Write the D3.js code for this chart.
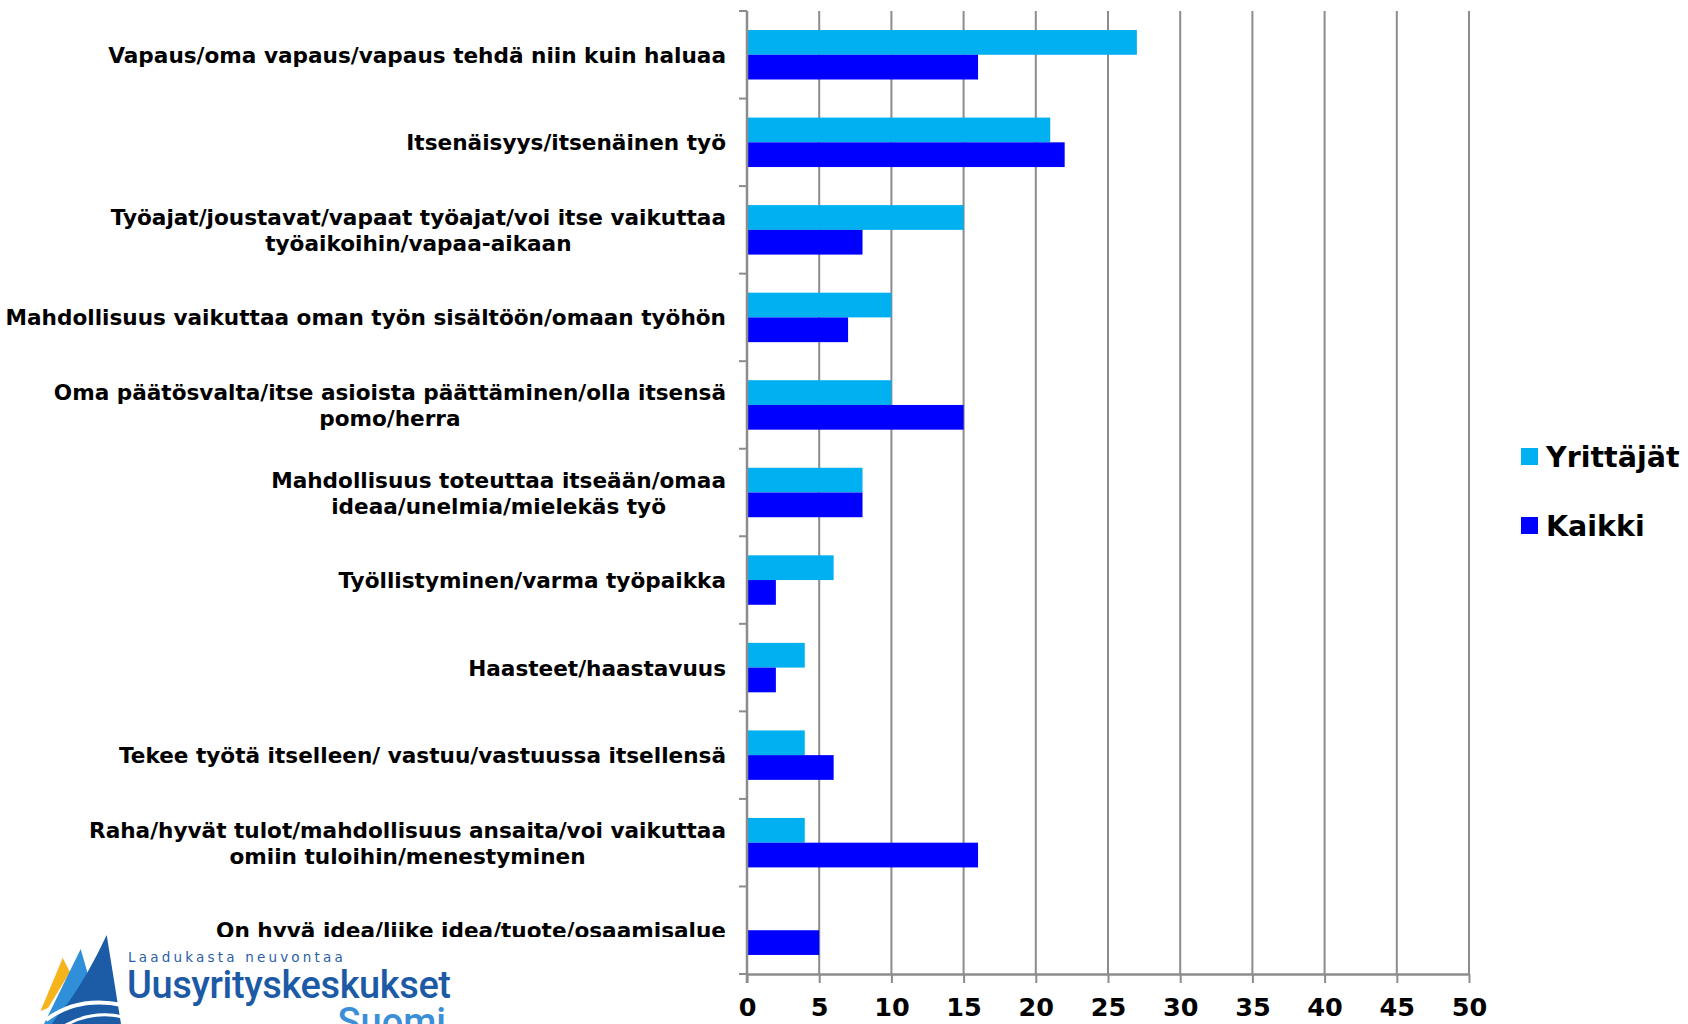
<!DOCTYPE html>
<html>
<head>
<meta charset="utf-8">
<script src="https://cdn.jsdelivr.net/npm/d3@7"></script>
<style>
  html, body { margin: 0; padding: 0; background: #fff; }
  svg { display: block; }
</style>
</head>
<body>
<svg id="chart"></svg>
<script>
var categories = [
  "Vapaus/oma vapaus/vapaus tehdä niin kuin haluaa",
  "Itsenäisyys/itsenäinen työ",
  "Työajat/joustavat/vapaat työajat/voi itse vaikuttaa\ntyöaikoihin/vapaa-aikaan",
  "Mahdollisuus vaikuttaa oman työn sisältöön/omaan työhön",
  "Oma päätösvalta/itse asioista päättäminen/olla itsensä\npomo/herra",
  "Mahdollisuus toteuttaa itseään/omaa\nideaa/unelmia/mielekäs työ",
  "Työllistyminen/varma työpaikka",
  "Haasteet/haastavuus",
  "Tekee työtä itselleen/ vastuu/vastuussa itsellensä",
  "Raha/hyvät tulot/mahdollisuus ansaita/voi vaikuttaa\nomiin tuloihin/menestyminen",
  "On hyvä idea/liike idea/tuote/osaamisalue"
];
var seriesNames = ["Yrittäjät", "Kaikki"];
var yrittajat = [27, 21, 15, 10, 10, 8, 6, 4, 4, 4, 0];
var kaikki = [16, 22, 8, 7, 15, 8, 2, 2, 6, 16, 5];
var xTicks = [0, 5, 10, 15, 20, 25, 30, 35, 40, 45, 50];
var colors = ["#00b0f0", "#0000ff"];

var width = 1688, height = 1024;
var plotLeft = 747, plotRight = 1469, plotTop = 11, plotBottom = 974;
var labelRight = 726;
var gridColor = "#8c8c8c";
var font = "'DejaVu Sans', Verdana, sans-serif";

var svg = d3.select('#chart')
  .attr('width', width)
  .attr('height', height);

var x = d3.scaleLinear()
  .domain([0, 50])
  .range([plotLeft, plotRight]);

var y = d3.scaleBand()
  .domain(categories)
  .range([plotTop, plotBottom])
  .padding(0);

var ySeries = d3.scaleBand()
  .domain(seriesNames)
  .range([0, y.bandwidth()])
  .paddingInner(0)
  .paddingOuter(0.77);

// vertical gridlines
svg.append('g')
  .selectAll('line')
  .data(xTicks.slice(1))
  .enter().append('line')
  .attr('x1', function(d){ return x(d); })
  .attr('x2', function(d){ return x(d); })
  .attr('y1', plotTop)
  .attr('y2', plotBottom)
  .attr('stroke', gridColor)
  .attr('stroke-width', 2);

// bars
var rows = categories.map(function(c, i){
  return {name: c, values: [yrittajat[i], kaikki[i]]};
});

var groups = svg.append('g')
  .selectAll('g')
  .data(rows)
  .enter().append('g')
  .attr('transform', function(d){ return 'translate(0,' + y(d.name) + ')'; });

groups.selectAll('rect')
  .data(function(d){
    return d.values.map(function(v, j){ return {series: seriesNames[j], value: v, idx: j}; });
  })
  .enter().append('rect')
  .attr('x', x(0))
  .attr('y', function(d){ return ySeries(d.series); })
  .attr('width', function(d){ return x(d.value) - x(0); })
  .attr('height', ySeries.bandwidth())
  .attr('fill', function(d){ return colors[d.idx]; });

// x axis
var xAxis = svg.append('g')
  .attr('transform', 'translate(0,' + plotBottom + ')')
  .call(d3.axisBottom(x).tickValues(xTicks).tickSize(9).tickSizeOuter(0).tickPadding(15));
xAxis.select('.domain').attr('stroke', gridColor).attr('stroke-width', 2.5);
xAxis.selectAll('.tick line').attr('stroke', gridColor).attr('stroke-width', 2);
xAxis.selectAll('.tick text')
  .attr('fill', '#000')
  .style('font-family', font)
  .style('font-weight', 'bold')
  .style('font-size', '25.5px');

// y axis: line and ticks at category boundaries
var bounds = categories.map(function(c){ return y(c); }).concat([plotBottom]);
var yAxis = svg.append('g');
yAxis.append('line')
  .attr('x1', plotLeft).attr('x2', plotLeft)
  .attr('y1', plotTop).attr('y2', plotBottom + 9)
  .attr('stroke', gridColor)
  .attr('stroke-width', 2.5);
yAxis.selectAll('.ytick')
  .data(bounds)
  .enter().append('line')
  .attr('class', 'ytick')
  .attr('x1', plotLeft - 8).attr('x2', plotLeft)
  .attr('y1', function(d){ return d; })
  .attr('y2', function(d){ return d; })
  .attr('stroke', gridColor)
  .attr('stroke-width', 2);

// category labels: block right-aligned, lines centred within the block
var labels = svg.append('g')
  .selectAll('text')
  .data(categories)
  .enter().append('text')
  .attr('text-anchor', 'middle')
  .attr('fill', '#000')
  .style('font-family', font)
  .style('font-weight', 'bold')
  .style('font-size', '21.6px');

labels.each(function(c){
  var lines = c.split('\n');
  var cy = y(c) + y.bandwidth() / 2;
  var t = d3.select(this);
  var spans = lines.map(function(line, k){
    return t.append('tspan')
      .attr('y', cy + 8 + (k - (lines.length - 1) / 2) * 26)
      .text(line);
  });
  var maxW = d3.max(spans, function(s){ return s.node().getComputedTextLength(); });
  spans.forEach(function(s){ s.attr('x', labelRight - maxW / 2); });
});

// legend
var legend = svg.append('g')
  .selectAll('g')
  .data(seriesNames)
  .enter().append('g')
  .attr('transform', function(d, i){ return 'translate(1521,' + (448 + i * 69) + ')'; });
legend.append('rect')
  .attr('width', 17).attr('height', 17)
  .attr('fill', function(d, i){ return colors[i]; });
legend.append('text')
  .attr('x', 25)
  .attr('y', 18.5)
  .attr('fill', '#000')
  .style('font-family', font)
  .style('font-weight', 'bold')
  .style('font-size', '28.5px')
  .text(function(d){ return d; });

// logo (covers the bottom of the last label)
var logo = svg.append('g');
logo.append('rect')
  .attr('x', 0).attr('y', 937)
  .attr('width', 738).attr('height', 87)
  .attr('fill', '#fff');
logo.append('path')
  .attr('d', 'M62.7,958 L40.5,1011 L48,1008 L70,972 Z')
  .attr('fill', '#f6b41c');
logo.append('path')
  .attr('d', 'M80.7,949 L44,1024 L62,1024 L93,992 Z')
  .attr('fill', '#2f8fd8');
logo.append('path')
  .attr('d', 'M106.7,935 Q88,975 68,1003 Q58,1014 52,1024 L121,1024 Q114,980 106.7,935 Z')
  .attr('fill', '#1c5ba6');
logo.append('path')
  .attr('d', 'M46,1020 Q78,996 122,1005')
  .attr('fill', 'none').attr('stroke', '#fff').attr('stroke-width', 4);
logo.append('path')
  .attr('d', 'M64,1026 Q92,1010 123,1017')
  .attr('fill', 'none').attr('stroke', '#fff').attr('stroke-width', 3);
logo.append('text')
  .attr('x', 128).attr('y', 962)
  .attr('fill', '#2a5ea8')
  .style('font-family', font)
  .style('font-size', '13.5px')
  .style('letter-spacing', '3.2px')
  .text('Laadukasta neuvontaa');
logo.append('text')
  .attr('x', 127).attr('y', 998)
  .attr('fill', '#1d5aa5')
  .style('font-family', "Roboto, 'Liberation Sans', sans-serif")
  .style('font-weight', 500)
  .style('font-size', '38px')
  .style('letter-spacing', '-0.4px')
  .text('Uusyrityskeskukset');
logo.append('text')
  .attr('x', 446).attr('y', 1035)
  .attr('text-anchor', 'end')
  .attr('fill', '#3a8fd8')
  .style('font-family', "Roboto, 'Liberation Sans', sans-serif")
  .style('font-weight', 500)
  .style('font-size', '38px')
  .text('Suomi');
</script>
</body>
</html>
